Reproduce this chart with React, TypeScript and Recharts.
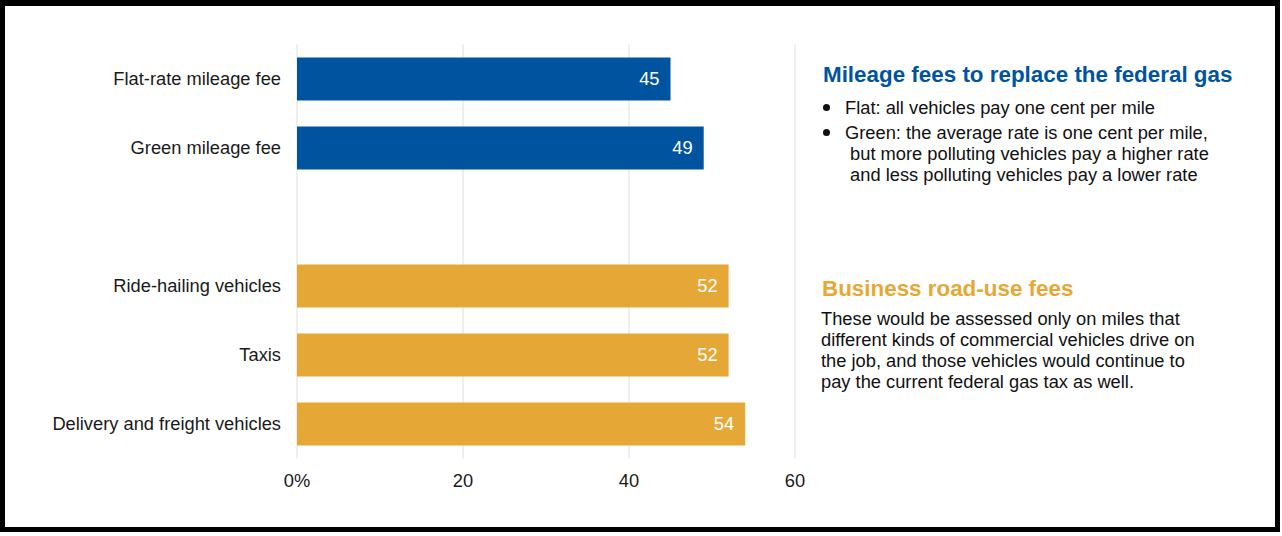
import { BarChart, Bar, XAxis, YAxis, CartesianGrid, Cell, LabelList } from 'recharts'

const categories = [
  'Flat-rate mileage fee',
  'Green mileage fee',
  '',
  'Ride-hailing vehicles',
  'Taxis',
  'Delivery and freight vehicles',
]
const shares = [45, 49, null, 52, 52, 54]
const groups = ['mileage', 'mileage', null, 'business', 'business', 'business']
const xTicks = [0, 20, 40, 60]

const BLUE = '#00549f'
const GOLD = '#e5a836'

const data = categories.map((name, i) => ({ name, value: shares[i], group: groups[i] }))

const font = '"Liberation Sans", Arial, sans-serif'

const Dot = () => (
  <span style={{ width: 23, display: 'flex', alignItems: 'center', height: 21 }}>
    <span style={{ width: 7, height: 7, borderRadius: '50%', background: '#111', marginLeft: 1 }} />
  </span>
)

export default function App() {
  return (
    <div style={{ position: 'fixed', left: 0, top: 0, width: 1282, height: 536, background: '#fff', fontFamily: font }}>
      <div
        style={{
          position: 'absolute',
          left: 0,
          top: 0,
          width: 1280,
          height: 532,
          border: '5px solid #000',
          borderTopWidth: 6,
          boxSizing: 'border-box',
        }}
      />

      <div style={{ position: 'absolute', left: 0, top: 0 }}>
        <BarChart
          width={820}
          height={500}
          layout="vertical"
          data={data}
          margin={{ top: 44.5, right: 25, bottom: 11.5, left: 0 }}
          barCategoryGap={0}
        >
          <CartesianGrid horizontal={false} stroke="#dedede" />
          <XAxis
            type="number"
            domain={[0, 60]}
            ticks={xTicks}
            axisLine={false}
            tickLine={false}
            tickMargin={10}
            height={30}
            interval={0}
            tick={{ fill: '#1a1a1a', fontSize: 18.3 }}
            tickFormatter={(v) => (v === 0 ? '0%' : String(v))}
          />
          <YAxis
            type="category"
            dataKey="name"
            width={297}
            axisLine={false}
            tickLine={false}
            tickMargin={10}
            interval={0}
            tick={{ fill: '#1a1a1a', fontSize: 18.3 }}
          />
          <Bar dataKey="value" barSize={43} isAnimationActive={false}>
            {data.map((d, i) => (
              <Cell key={`cell-${i}`} fill={d.group === 'mileage' ? BLUE : GOLD} />
            ))}
            <LabelList dataKey="value" position="insideRight" offset={11} fill="#fff" fontSize={18.3} />
          </Bar>
        </BarChart>
      </div>

      {/* right-hand notes */}
      <div style={{ position: 'absolute', left: 823, top: 62, fontSize: 22.4, lineHeight: '26px', fontWeight: 700, color: BLUE, whiteSpace: 'nowrap' }}>
        Mileage fees to replace the federal gas
      </div>
      <div style={{ position: 'absolute', left: 822, top: 97, fontSize: 18.3, lineHeight: '21px', color: '#111', whiteSpace: 'nowrap' }}>
        <div style={{ display: 'flex' }}>
          <Dot />
          <span>Flat: all vehicles pay one cent per mile</span>
        </div>
        <div style={{ display: 'flex', marginTop: 4 }}>
          <Dot />
          <span>
            Green: the average rate is one cent per mile,
            <br />
            &nbsp;but more polluting vehicles pay a higher rate
            <br />
            &nbsp;and less polluting vehicles pay a lower rate
          </span>
        </div>
      </div>

      <div style={{ position: 'absolute', left: 822, top: 276, fontSize: 22.4, lineHeight: '26px', fontWeight: 700, color: GOLD, whiteSpace: 'nowrap' }}>
        Business road-use fees
      </div>
      <div style={{ position: 'absolute', left: 821, top: 307.5, fontSize: 18.3, lineHeight: '21px', color: '#111', whiteSpace: 'nowrap' }}>
        These would be assessed only on miles that
        <br />
        different kinds of commercial vehicles drive on
        <br />
        the job, and those vehicles would continue to
        <br />
        pay the current federal gas tax as well.
      </div>
    </div>
  )
}
